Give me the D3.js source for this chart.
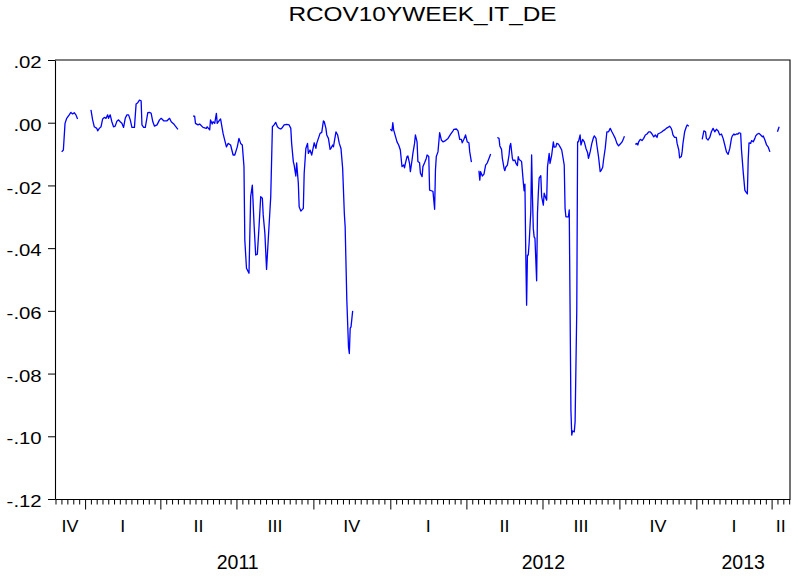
<!DOCTYPE html>
<html>
<head>
<meta charset="utf-8">
<script src="https://cdn.jsdelivr.net/npm/d3@7"></script>
<style>
body { margin: 0; background: #fff; }
svg text { font-family: "Liberation Sans", Arial, sans-serif; fill: #000; }
</style>
</head>
<body>
<svg id="chart" width="792" height="577"></svg>
<script>
// each run = [days since 2011-01-01, value]; runs are separated by missing obs
var run1 = [[-28,-.0093],[-26,-.0087],[-24,-.0002],[-22,.0014],[-19,.0025],[-17,.0033],[-15,.0028],[-13,.0032],[-11,.0025],[-9,.0012]];
var run2 = [[7,.0041],[9,.0009],[11,-.0013],[14,-.0018],[15,-.0026],[17,-.0018],[19,-.0013],[21,.0012],[23,.0017],[25,.0014],[27,.0025],[28,.0014],[30,.0025],[32,.0003],[34,-.0013],[36,-.0011],[38,.0005],[40,.0009],[42,.0003],[44,-.0002],[46,-.0015],[48,.0014],[50,.0025],[52,.0025],[54,.0009],[56,-.0015],[59,-.0015],[61,.0060],[63,.0064],[65,.0072],[67,.0070],[68,-.0007],[70,-.0015],[72,-.0015],[75,.0032],[77,.0033],[79,.0030],[81,.0003],[83,-.0011],[86,-.0007],[89,.0009],[91,.0014],[94,.0006],[96,.0006],[98,.0006],[101,.0014],[103,.0003],[106,-.0004],[108,-.0011],[111,-.0021]];
var run3 = [[129,.0021],[131,.0021],[132,-.0002],[135,-.0007],[137,-.0004],[141,-.0015],[145,-.0018],[146,-.0013],[149,-.0023],[150,.0009],[152,-.0004],[153,.0003],[155,-.0002],[157,.0030],[158,-.0002],[161,.0009],[162,.0012],[165,-.0034],[166,-.0045],[169,-.0077],[171,-.0066],[174,-.0071],[177,-.0103],[179,-.0103],[182,-.0077],[184,-.0050],[186,-.0066],[188,-.0071],[190,-.0140],[191,-.0374],[193,-.0464],[196,-.0480],[198,-.0236],[200,-.0199],[202,-.0321],[204,-.0422],[206,-.0419],[208,-.0332],[210,-.0236],[212,-.0241],[213,-.0294],[215,-.0353],[217,-.0468],[219,-.0374],[222,-.0236],[224,-.0013],[226,-.0007],[228,.0001],[230,-.0013],[232,-.0018],[234,-.0020],[236,-.0015],[238,-.0007],[241,-.0005],[244,-.0007],[246,-.0018],[247,-.0066],[249,-.0124],[250,-.0135],[252,-.0170],[253,-.0128],[255,-.0193],[256,-.0268],[258,-.0282],[261,-.0273],[262,-.0161],[264,-.0082],[266,-.0066],[267,-.0098],[269,-.0087],[271,-.0103],[273,-.0077],[274,-.0064],[276,-.0082],[277,-.0066],[279,-.0050],[281,-.0034],[283,-.0031],[285,.0006],[286,.0003],[288,-.0018],[289,-.0039],[291,-.0050],[293,-.0085],[294,-.0082],[296,-.0071],[297,-.0077],[300,-.0029],[302,-.0039],[304,-.0066],[306,-.0082],[308,-.0145],[310,-.0289],[311,-.0332],[313,-.0566],[315,-.0715],[316,-.0736],[317,-.0656],[318,-.0651],[320,-.0600]];
var run4 = [[365,-.0021],[367,-.0026],[368,.0000],[369,-.0023],[371,-.0042],[373,-.0061],[375,-.0071],[377,-.0087],[378,-.0114],[379,-.0140],[381,-.0135],[382,-.0144],[383,-.0130],[385,-.0108],[386,-.0106],[388,-.0130],[389,-.0156],[391,-.0119],[392,-.0098],[394,-.0066],[395,-.0039],[397,-.0061],[398,-.0124],[400,-.0128],[401,-.0161],[403,-.0172],[404,-.0140],[406,-.0128],[408,-.0114],[409,-.0103],[411,-.0108],[412,-.0215],[414,-.0217],[416,-.0219],[418,-.0276],[419,-.0151],[420,-.0108],[422,-.0093],[424,-.0032],[426,-.0055],[428,-.0061],[431,-.0057],[434,-.0050],[437,-.0037],[440,-.0026],[441,-.0021],[444,-.0020],[446,-.0026],[448,-.0053],[450,-.0053],[451,-.0064],[453,-.0053],[455,-.0039],[457,-.0061],[459,-.0064],[460,-.0093],[462,-.0126]];
var run5 = [[471,-.0153],[472,-.0183],[473,-.0156],[475,-.0170],[477,-.0164],[479,-.0135],[481,-.0128],[483,-.0114],[485,-.0100]];
var run6 = [[493,-.0047],[495,-.0050],[496,-.0074],[498,-.0085],[499,-.0114],[501,-.0145],[502,-.0153],[503,-.0142],[505,-.0135],[507,-.0103],[508,-.0074],[509,-.0066],[511,-.0114],[512,-.0121],[514,-.0119],[515,-.0128],[517,-.0137],[518,-.0108],[519,-.0117],[521,-.0121],[522,-.0124],[524,-.0188],[525,-.0217],[526,-.0196],[527,-.0417],[528,-.0582],[529,-.0422],[530,-.0422],[531,-.0385],[533,-.0284],[534,-.0103],[535,-.0236],[536,-.0337],[537,-.0364],[538,-.0369],[540,-.0504],[541,-.0289],[542,-.0225],[543,-.0177],[545,-.0169],[546,-.0236],[548,-.0263],[549,-.0225],[551,-.0241],[552,-.0247],[553,-.0140],[555,-.0098],[556,-.0130],[558,-.0103],[560,-.0061],[561,-.0078],[563,-.0077],[564,-.0066],[566,-.0068],[568,-.0077],[570,-.0087],[571,-.0103],[573,-.0135],[574,-.0273],[575,-.0300],[578,-.0300],[579,-.0278],[580,-.0597],[581,-.0917],[582,-.0996],[583,-.0983],[585,-.0986],[586,-.0954],[588,-.0597],[589,-.0061],[590,-.0061],[592,-.0039],[593,-.0071],[595,-.0053],[597,-.0061],[599,-.0082],[601,-.0096],[602,-.0114],[604,-.0093],[606,-.0066],[608,-.0047],[609,-.0042],[611,-.0050],[612,-.0071],[614,-.0108],[616,-.0156],[617,-.0153],[619,-.0142],[620,-.0119],[622,-.0082],[624,-.0029],[626,-.0029],[628,-.0018],[630,-.0029],[632,-.0039],[634,-.0050],[636,-.0066],[638,-.0074],[640,-.0068],[642,-.0062],[644,-.0050],[645,-.0043]];
var run7 = [[658,-.0069],[660,-.0066],[661,-.0071],[662,-.0061],[664,-.0053],[666,-.0057],[668,-.0050],[670,-.0039],[672,-.0036],[674,-.0029],[676,-.0029],[678,-.0036],[680,-.0045],[682,-.0039],[684,-.0047],[685,-.0036],[688,-.0032],[690,-.0029],[691,-.0026],[693,-.0023],[695,-.0018],[697,-.0015],[699,-.0011],[701,-.0018],[702,-.0026],[703,-.0039],[705,-.0047],[707,-.0047],[708,-.0066],[710,-.0087],[711,-.0112],[713,-.0108],[714,-.0093],[715,-.0066],[717,-.0029],[719,-.0013],[720,-.0007],[722,-.0011]];
var run8 = [[738,-.0053],[740,-.0026],[742,-.0029],[743,-.0050],[745,-.0055],[747,-.0047],[749,-.0029],[751,-.0018],[753,-.0029],[755,-.0021],[757,-.0026],[759,-.0039],[761,-.0036],[763,-.0050],[765,-.0071],[767,-.0093],[769,-.0101],[771,-.0082],[773,-.0050],[774,-.0042],[776,-.0036],[777,-.0039],[779,-.0036],[781,-.0036],[782,-.0032],[784,-.0034],[785,-.0087],[787,-.0156],[789,-.0215],[790,-.0220],[792,-.0227],[793,-.0119],[794,-.0064],[796,-.0066],[797,-.0057],[799,-.0061],[801,-.0050],[802,-.0042],[804,-.0036],[806,-.0034],[808,-.0039],[810,-.0045],[811,-.0042],[813,-.0055],[815,-.0071],[817,-.0078],[819,-.0093]];
var run9 = [[828,-.0029],[830,-.0013]];

var runs = [run1, run2, run3, run4, run5, run6, run7, run8, run9];

var yTicks = [0.02, 0, -0.02, -0.04, -0.06, -0.08, -0.10, -0.12];
var quarterStarts = ["2010-10-01","2011-01-01","2011-04-01","2011-07-01","2011-10-01","2012-01-01","2012-04-01","2012-07-01","2012-10-01","2013-01-01","2013-04-01"];
var quarterLabels = ["IV","I","II","III","IV","I","II","III","IV","I","II"];
var years = ["2011","2012","2013"];

var title = "RCOV10YWEEK_IT_DE";

var parse = d3.timeParse("%Y-%m-%d");
var base = new Date(2011, 0, 1);
function dayToDate(n){ return d3.timeDay.offset(base, n); }

var svg = d3.select("#chart");
var plotL = 55, plotR = 790, plotT = 60, plotB = 499;

var start = new Date(2010, 10, 26), end = new Date(2013, 3, 23);
var x = d3.scaleTime().domain([start, end]).range([plotL, plotR]);
var y = d3.scaleLinear().domain([-0.12, 0.02]).range([plotB, plotT]);

// frame (top + right), axes draw left + bottom
svg.append("path")
    .attr("d", "M" + plotL + "," + plotT + "H" + plotR + "V" + plotB)
    .attr("fill", "none")
    .attr("stroke", "#000")
    .attr("stroke-width", 1.1);

// y axis
function fmt(v){
    var s = String(Math.round(Math.abs(v) * 100));
    if (s.length < 2) s = "0" + s;
    return (v < -1e-9 ? "-" : "") + "." + s;
}
var yAxis = svg.append("g")
    .attr("transform", "translate(" + plotL + ",0)")
    .call(d3.axisLeft(y).tickValues(yTicks).tickSize(7).tickSizeOuter(0).tickFormat(fmt));
yAxis.selectAll("text")
    .attr("x", 0).attr("dy", 0)
    .attr("font-size", 16.3)
    .attr("transform", "translate(-13.3,7.7) scale(1.25,1)");

// x axis: quarter ticks (long), weekly-ish ticks (short)
var qDates = quarterStarts.map(parse);
var majorTicks = qDates.filter(function(d){ return d >= start && d <= end; });
var minorTicks = [];
qDates.forEach(function(q){
    var next = d3.timeMonth.offset(q, 3);
    var step = (next - q) / 13;
    for (var i = 1; i < 13; i++) {
        var t = new Date(+q + i * step);
        if (t >= start && t <= end) minorTicks.push(t);
    }
});

svg.append("g")
    .attr("class", "minor")
    .attr("transform", "translate(0," + plotB + ")")
    .call(d3.axisBottom(x).tickValues(minorTicks).tickSize(5.5).tickFormat(""))
    .select(".domain").remove();

svg.append("g")
    .attr("transform", "translate(0," + plotB + ")")
    .call(d3.axisBottom(x).tickValues(majorTicks).tickSize(10.5).tickSizeOuter(0).tickFormat(""));

svg.selectAll(".tick line").attr("stroke-width", 1);
svg.selectAll(".domain").attr("stroke-width", 1.1);

// quarter labels, centred on the visible part of each quarter
qDates.forEach(function(q, i){
    var a = q < start ? start : q;
    var b = d3.timeMonth.offset(q, 3);
    if (b > end) b = end;
    var cx = (x(a) + x(b)) / 2;
    svg.append("text")
        .attr("transform", "translate(" + cx + ",532) scale(1.1,1)")
        .attr("text-anchor", "middle")
        .attr("font-size", 16.3)
        .text(quarterLabels[i]);
});

// year labels
years.forEach(function(yr){
    var a = parse(yr + "-01-01"), b = parse((+yr + 1) + "-01-01");
    if (b > end) b = end;
    svg.append("text")
        .attr("x", (x(a) + x(b)) / 2)
        .attr("y", 569)
        .attr("text-anchor", "middle")
        .attr("font-size", 19.5)
        .text(yr);
});

// title
svg.append("text")
    .attr("transform", "translate(" + ((plotL + plotR) / 2) + ",20.7) scale(1.19,1)")
    .attr("text-anchor", "middle")
    .attr("font-size", 20.5)
    .text(title);

// series
var line = d3.line()
    .x(function(d){ return x(dayToDate(d[0])); })
    .y(function(d){ return y(d[1]); });

svg.append("g")
    .selectAll("path")
    .data(runs)
    .join("path")
    .attr("d", line)
    .attr("fill", "none")
    .attr("stroke", "#0000ff")
    .attr("stroke-width", 1.3)
    .attr("stroke-linejoin", "round");
</script>
</body>
</html>
